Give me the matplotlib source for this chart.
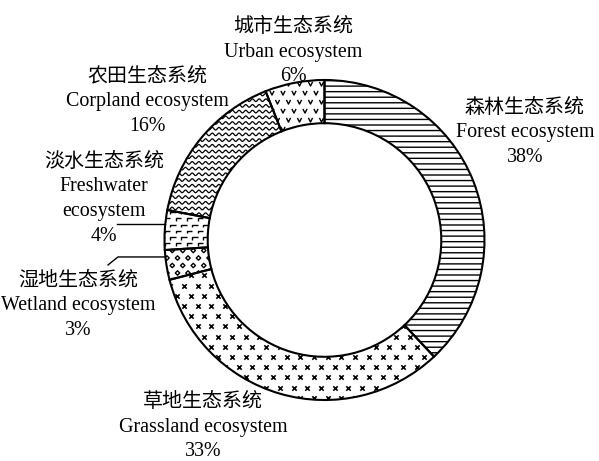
import numpy as np
import matplotlib
matplotlib.use("Agg")
import matplotlib.pyplot as plt
from matplotlib.path import Path

# ========================================================================
# Data
# ========================================================================
cn_names = ["森林生态系统", "草地生态系统", "湿地生态系统",
            "淡水生态系统", "农田生态系统", "城市生态系统"]
en_names = ["Forest ecosystem", "Grassland ecosystem", "Wetland ecosystem",
            "Freshwater\necosystem", "Corpland ecosystem", "Urban ecosystem"]
shares = [38, 33, 3, 4, 16, 6]

# label block centres (data units, pie radius = 1)
label_xy = [(1.253, 0.67), (-0.759, -1.17), (-1.541, -0.412),
            (-1.378, 0.255), (-1.109, 0.865), (-0.197, 1.175)]

plt.rcParams["font.family"] = ["Liberation Serif", "Noto Sans CJK SC"]
plt.rcParams["hatch.linewidth"] = 1.0

px = 1.0 / 160.0  # one pixel in data units

# ========================================================================
# Texture helpers
# ========================================================================
v_mark = Path([(-1, 1), (0, -1), (1, 1)],
              [Path.MOVETO, Path.LINETO, Path.LINETO])
corner_mark = Path([(-1, -0.7), (-1, 0.3), (1, 0.3)],
                   [Path.MOVETO, Path.LINETO, Path.LINETO])


def stagger_grid(dx, dy):
    pts = []
    ys = np.arange(-1.05, 1.05, dy)
    for i, y in enumerate(ys):
        xs = np.arange(-1.05, 1.05, dx) + (dx / 2 if i % 2 else 0)
        pts.append(np.column_stack([xs, np.full_like(xs, y)]))
    return np.vstack(pts)


def mark_fill(ax, wedge, dx, dy, marker, s, lw):
    g = stagger_grid(dx * px, dy * px)
    sc = ax.scatter(g[:, 0], g[:, 1], marker=marker, s=s, linewidths=lw,
                    facecolors="none", edgecolors="black", zorder=2)
    if marker == "x":
        sc.set_color("black")
    sc.set_clip_path(wedge)


def wave_fill(ax, wedge, spacing, wavelength, amp):
    x = np.linspace(-1.05, 1.05, 1500)
    for y0 in np.arange(-1.05, 1.05, spacing * px):
        ln, = ax.plot(x, y0 + amp * px * np.sin(2 * np.pi * x / (wavelength * px)),
                      color="black", lw=0.9, zorder=2)
        ln.set_clip_path(wedge)


# ========================================================================
# Figure
# ========================================================================
fig = plt.figure(figsize=(5.99, 4.61), dpi=100)
ax = fig.add_axes([0, 0, 1, 1])

hatches = ["---", "", "", "", "", ""]
wedges, _ = ax.pie(
    shares,
    radius=1,
    startangle=90,
    counterclock=False,
    hatch=hatches,
    wedgeprops=dict(width=0.27, facecolor="none", edgecolor="black",
                    linewidth=1.5, zorder=3),
)

# textures for each wedge
mark_fill(ax, wedges[1], 13.7, 10.2, "x", 10, 1.2)          # grassland
mark_fill(ax, wedges[2], 10.5, 7.5, "D", 5.0, 1.0)          # wetland
mark_fill(ax, wedges[3], 11.0, 6.3, corner_mark, 13, 1.0)   # freshwater
wave_fill(ax, wedges[4], 5.7, 6.7, 1.3)                     # cropland
mark_fill(ax, wedges[5], 11.0, 9.0, v_mark, 9, 1.0)         # urban

# labels
for cn, en, pct, (lx, ly) in zip(cn_names, en_names, shares, label_xy):
    ax.text(lx, ly, f"{cn}\n{en}\n{pct}%", ha="center", va="center",
            fontsize=14.4, linespacing=1.4)

# leader lines for the two small wedges
y_fw = 0.10
ax.plot([-1.297, -np.sqrt(1 - y_fw ** 2)], [y_fw, y_fw], color="black", lw=1.0)
y_wl = -0.106
ax.plot([-1.353, -1.291, -np.sqrt(1 - y_wl ** 2)], [-0.156, y_wl, y_wl],
        color="black", lw=1.0)

ax.set_aspect("equal")
ax.set_xlim(-324.5 * px, (599 - 324.5) * px)
ax.set_ylim(-(461 - 240) * px, 240 * px)
ax.axis("off")

fig.savefig("out.png", dpi=100)
